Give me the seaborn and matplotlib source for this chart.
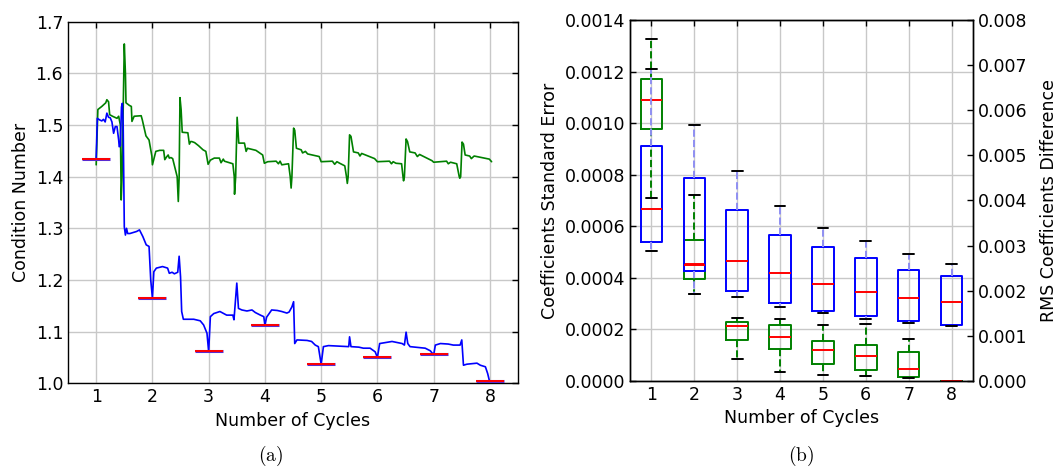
import numpy as np
import pandas as pd
import matplotlib
matplotlib.use("Agg")
import matplotlib.pyplot as plt
from matplotlib.ticker import FormatStrFormatter, MultipleLocator
import seaborn as sns

# ---------------------------------------------------------------- data (a)
green_x = [1.00, 1.03, 1.10, 1.17, 1.19, 1.22, 1.24, 1.29, 1.33, 1.37, 1.40, 1.43,
           1.445, 1.46, 1.50, 1.52, 1.53, 1.59, 1.625, 1.636, 1.675, 1.80, 1.82,
           1.885, 1.94, 1.99, 2.00, 2.06, 2.13, 2.20, 2.22, 2.25, 2.28, 2.30, 2.33,
           2.36, 2.44, 2.46, 2.475, 2.49, 2.51, 2.53, 2.63, 2.657, 2.68, 2.70, 2.75,
           2.82, 2.90, 2.95, 2.99, 3.03, 3.10, 3.19, 3.22, 3.26, 3.28, 3.43, 3.455,
           3.46, 3.48, 3.506, 3.52, 3.535, 3.636, 3.666, 3.69, 3.84, 3.96, 3.99,
           4.05, 4.20, 4.24, 4.27, 4.30, 4.42, 4.45, 4.466, 4.48, 4.51, 4.53, 4.56,
           4.645, 4.67, 4.72, 4.76, 4.965, 5.00, 5.20, 5.24, 5.28, 5.33, 5.42, 5.45,
           5.465, 5.48, 5.505, 5.53, 5.575, 5.66, 5.69, 5.72, 5.95, 6.00, 6.215,
           6.25, 6.28, 6.33, 6.43, 6.455, 6.465, 6.48, 6.51, 6.535, 6.575, 6.67,
           6.71, 6.75, 6.97, 7.00, 7.23, 7.26, 7.30, 7.41, 7.455, 7.465, 7.48,
           7.505, 7.53, 7.56, 7.64, 7.67, 7.72, 7.99, 8.03]
green_y = [1.423, 1.530, 1.536, 1.543, 1.549, 1.545, 1.520, 1.517, 1.515, 1.513, 1.517, 1.500,
           1.355, 1.400, 1.657, 1.600, 1.543, 1.538, 1.536, 1.507, 1.517, 1.518, 1.510,
           1.479, 1.471, 1.440, 1.423, 1.449, 1.451, 1.451, 1.433, 1.438, 1.442, 1.436, 1.437,
           1.435, 1.400, 1.352, 1.400, 1.553, 1.530, 1.486, 1.485, 1.463, 1.468, 1.468, 1.466,
           1.460, 1.452, 1.449, 1.424, 1.432, 1.436, 1.436, 1.427, 1.434, 1.430, 1.425, 1.400,
           1.366, 1.400, 1.515, 1.490, 1.465, 1.465, 1.449, 1.455, 1.451, 1.442, 1.426,
           1.429, 1.430, 1.425, 1.430, 1.423, 1.425, 1.400, 1.378, 1.400, 1.494, 1.490, 1.455,
           1.452, 1.446, 1.449, 1.444, 1.439, 1.429, 1.430, 1.424, 1.429, 1.426, 1.421, 1.400,
           1.387, 1.400, 1.481, 1.478, 1.448, 1.446, 1.440, 1.445, 1.435, 1.429, 1.430,
           1.425, 1.429, 1.426, 1.425, 1.400, 1.392, 1.400, 1.473, 1.468, 1.448, 1.446,
           1.439, 1.443, 1.431, 1.428, 1.430, 1.425, 1.428, 1.425, 1.400, 1.397, 1.400,
           1.467, 1.463, 1.442, 1.440, 1.435, 1.440, 1.434, 1.429]

blue_x = [1.00, 1.02, 1.06, 1.10, 1.13, 1.16, 1.19, 1.22, 1.25, 1.28, 1.31, 1.34, 1.37,
          1.40, 1.41, 1.43, 1.45, 1.465, 1.48, 1.50, 1.52, 1.54, 1.56, 1.60, 1.72, 1.77,
          1.83, 1.89, 1.94, 1.97, 2.00, 2.025, 2.07, 2.18, 2.27, 2.30, 2.35, 2.39, 2.45,
          2.475, 2.50, 2.52, 2.55, 2.735, 2.85, 2.91, 2.97, 3.00, 3.03, 3.09, 3.20, 3.32,
          3.43, 3.45, 3.50, 3.53, 3.59, 3.68, 3.77, 3.83, 3.92, 3.98, 4.00, 4.03, 4.12,
          4.22, 4.30, 4.39, 4.43, 4.48, 4.51, 4.53, 4.57, 4.75, 4.83, 4.895, 4.95, 5.00,
          5.04, 5.13, 5.49, 5.505, 5.53, 5.67, 5.75, 5.87, 5.96, 6.00, 6.04, 6.26, 6.44,
          6.48, 6.51, 6.54, 6.58, 6.76, 6.85, 6.94, 7.00, 7.03, 7.12, 7.26, 7.35, 7.47,
          7.50, 7.53, 7.59, 7.77, 7.83, 7.92, 7.96, 8.00]
blue_y = [1.435, 1.513, 1.510, 1.508, 1.511, 1.506, 1.523, 1.515, 1.514, 1.506, 1.484, 1.497, 1.497,
          1.471, 1.458, 1.460, 1.535, 1.542, 1.500, 1.303, 1.287, 1.300, 1.290, 1.290, 1.294, 1.297,
          1.284, 1.268, 1.265, 1.200, 1.165, 1.216, 1.223, 1.226, 1.223, 1.213, 1.215, 1.212, 1.215,
          1.246, 1.206, 1.139, 1.124, 1.124, 1.121, 1.113, 1.097, 1.061, 1.129, 1.135, 1.139, 1.132,
          1.132, 1.123, 1.194, 1.145, 1.142, 1.140, 1.142, 1.137, 1.132, 1.129, 1.112, 1.128, 1.142,
          1.141, 1.139, 1.136, 1.138, 1.148, 1.158, 1.077, 1.084, 1.083, 1.081, 1.074, 1.071, 1.037,
          1.071, 1.073, 1.071, 1.090, 1.071, 1.070, 1.068, 1.068, 1.061, 1.050, 1.077, 1.081, 1.077,
          1.074, 1.099, 1.077, 1.071, 1.069, 1.068, 1.063, 1.055, 1.074, 1.077, 1.076, 1.074, 1.074,
          1.084, 1.035, 1.037, 1.039, 1.035, 1.032, 1.019, 1.001]

cycles = [1, 2, 3, 4, 5, 6, 7, 8]
cycle_levels = [1.435, 1.165, 1.063, 1.112, 1.037, 1.050, 1.056, 1.004]

# ---------------------------------------------------------------- data (b)
# standard error of the coefficients (left axis): whisker low, Q1, median, Q3, whisker high
se_low = [0.000710, 0.000338, 0.0000865, 0.0000361, 0.0000232, 0.0000194, 0.0000116, 0.0]
se_q1 = [0.000978, 0.000394, 0.000157, 0.000124, 0.0000658, 0.0000439, 0.0000168, 0.0]
se_med = [0.001090, 0.000452, 0.000213, 0.000170, 0.000121, 0.000098, 0.0000464, 0.0]
se_q3 = [0.001172, 0.000546, 0.000227, 0.000219, 0.000155, 0.000138, 0.000112, 0.0]
se_high = [0.001326, 0.000723, 0.000243, 0.000240, 0.000219, 0.000222, 0.000163, 0.0]

# RMS difference of the coefficients (right axis)
rms_low = [0.00287, 0.00193, 0.00185, 0.00163, 0.00151, 0.00138, 0.00129, 0.00122]
rms_q1 = [0.00309, 0.00243, 0.00199, 0.00173, 0.00155, 0.00143, 0.00132, 0.00125]
rms_med = [0.00382, 0.00258, 0.00266, 0.00239, 0.00215, 0.00197, 0.00183, 0.00175]
rms_q3 = [0.00520, 0.00449, 0.00378, 0.00323, 0.00297, 0.00273, 0.00247, 0.00233]
rms_high = [0.00691, 0.00568, 0.00465, 0.00387, 0.00338, 0.00310, 0.00282, 0.00259]


def five_number_frame(low, q1, med, q3, high):
    rows = []
    for c, vals in zip(cycles, zip(low, q1, med, q3, high)):
        for v in vals:
            rows.append({"cycle": c, "value": v})
    return pd.DataFrame(rows)


se_df = five_number_frame(se_low, se_q1, se_med, se_q3, se_high)
rms_df = five_number_frame(rms_low, rms_q1, rms_med, rms_q3, rms_high)

# ---------------------------------------------------------------- style
sns.set_theme(style="whitegrid")
plt.rcParams.update({
    "font.family": ["DejaVu Sans"],
    "font.size": 12.5,
    "axes.edgecolor": "black",
    "axes.linewidth": 1.0,
    "axes.facecolor": "white",
    "grid.color": "#c8c8c8",
    "grid.linewidth": 1.0,
    "xtick.direction": "in",
    "ytick.direction": "in",
    "xtick.top": True,
    "ytick.right": True,
    "xtick.major.size": 4,
    "ytick.major.size": 4,
    "xtick.major.width": 1.0,
    "ytick.major.width": 1.0,
    "xtick.color": "black",
    "ytick.color": "black",
    "xtick.labelsize": 12.5,
    "ytick.labelsize": 12.5,
    "axes.labelsize": 12.5,
    "axes.labelcolor": "black",
    "text.color": "black",
    "mathtext.fontset": "cm",
})

fig = plt.figure(figsize=(10.6, 4.67), dpi=100)
ax_a = fig.add_axes([0.0642, 0.1792, 0.4245, 0.7743])
ax_b = fig.add_axes([0.5943, 0.1842, 0.3236, 0.7730])

# ---------------------------------------------------------------- panel (a)
sns.lineplot(x=green_x, y=green_y, ax=ax_a, color="green", linewidth=1.2,
             sort=False, estimator=None)
sns.lineplot(x=blue_x, y=blue_y, ax=ax_a, color="blue", linewidth=1.2,
             sort=False, estimator=None)
cyc = np.array(cycles, dtype=float)
ax_a.hlines(cycle_levels, cyc - 0.25, cyc + 0.25, colors="#5a2bd0", linewidth=2.2, zorder=3)
ax_a.hlines(cycle_levels, cyc - 0.25, cyc + 0.25, colors="red", linewidth=1.4, zorder=4)

ax_a.set_xlim(0.5, 8.5)
ax_a.set_ylim(1.0, 1.7)
ax_a.set_xticks(cycles)
ax_a.yaxis.set_major_locator(MultipleLocator(0.1))
ax_a.yaxis.set_major_formatter(FormatStrFormatter("%.1f"))
ax_a.set_xlabel("Number of Cycles")
ax_a.set_ylabel("Condition Number")
ax_a.grid(True)
ax_a.set_axisbelow(True)

# ---------------------------------------------------------------- panel (b)
box_kw = dict(x="cycle", y="value", native_scale=True, width=0.5, whis=(0, 100),
              fill=False, showfliers=False, linewidth=1.4)
sns.boxplot(data=se_df, ax=ax_b, color="green",
            medianprops={"color": "red"},
            capprops={"color": "black"},
            whiskerprops={"color": "green", "linestyle": "--"},
            **box_kw)

ax_b2 = ax_b.twinx()
sns.boxplot(data=rms_df, ax=ax_b2, color="blue",
            medianprops={"color": "red"},
            capprops={"color": "black"},
            whiskerprops={"color": "#8f8ff2", "linestyle": "--"},
            **box_kw)

ax_b.set_xlim(0.5, 8.5)
ax_b.set_xticks(cycles)
ax_b.set_xticklabels([str(c) for c in cycles])
ax_b.set_ylim(0, 0.0014)
ax_b.yaxis.set_major_locator(MultipleLocator(0.0002))
ax_b.yaxis.set_major_formatter(FormatStrFormatter("%.4f"))
ax_b.tick_params(axis="y", right=False)
ax_b.tick_params(axis="x", top=True)
ax_b.grid(True)
ax_b.set_axisbelow(True)
ax_b.set_xlabel("Number of Cycles")
ax_b.set_ylabel("Coefficients Standard Error")

ax_b2.set_ylim(0, 0.008)
ax_b2.yaxis.set_major_locator(MultipleLocator(0.001))
ax_b2.yaxis.set_major_formatter(FormatStrFormatter("%.3f"))
ax_b2.grid(False)
ax_b2.tick_params(axis="y", direction="in", right=True, left=False)
ax_b2.set_ylabel("RMS Coefficients Difference", labelpad=9)
ax_b2.set_xlim(0.5, 8.5)

# ---------------------------------------------------------------- captions
fig.text(0.255, 0.024, r"$\mathrm{(a)}$", ha="center", va="center", fontsize=14)
fig.text(0.756, 0.024, r"$\mathrm{(b)}$", ha="center", va="center", fontsize=14)

fig.savefig("out.png", dpi=100)
